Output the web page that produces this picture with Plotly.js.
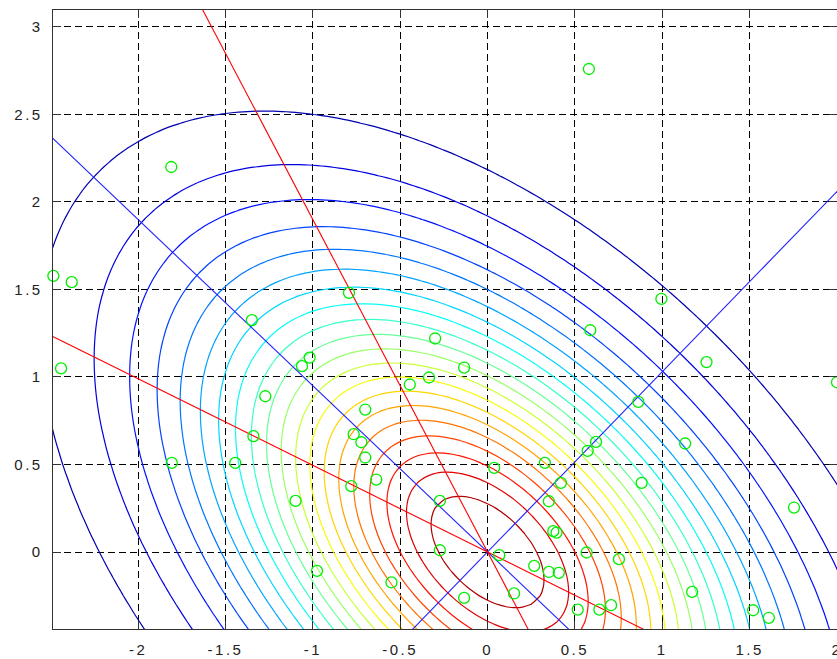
<!DOCTYPE html>
<html><head><meta charset="utf-8">
<script src="https://cdn.plot.ly/plotly-3.0.1.min.js"></script>
<style>
html,body{margin:0;padding:0;background:#fff;}
#chart{width:837px;height:659px;}
.xtick text, .ytick text { letter-spacing: 2.5px; }
</style></head><body><div id="chart"></div>
<script>
// ---- data ----
// Gaussian density (mean and covariance) whose contours are drawn
const densityMean = [0, 0];
const covRow1 = [1.078, -0.528];
const covRow2 = [-0.528, 1.042];
const contourLevelCount = 20;

// sample points (green circles)
const pointsX = [0.58, -1.81, -2.485, -2.38, -0.793, -1.349, -0.30, -1.018, -1.062, -2.441,
  -0.335, -0.445, -0.134, -1.272, -0.70, -1.34, -0.766, -0.722, -0.70, -1.807,
  -1.444, -0.637, -0.780, -1.099, -0.273, -0.273, -0.976, -0.550, -1.028, 0.038,
  0.328, 0.863, 0.621, 0.573, 0.882, 0.420, 0.351, 0.376, 0.395, 0.067,
  0.267, 0.351, 0.408, 0.567, 0.752, -0.134, 0.152, 0.516, 0.640, 0.707,
  0.829, 1.754, 1.171, 1.520, 1.610, 0.995, 0.588, 1.253, 2.0, 1.131];
const pointsY = [2.76, 2.20, 1.578, 1.542, 1.481, 1.325, 1.22, 1.111, 1.062, 1.049,
  0.997, 0.957, 1.054, 0.890, 0.814, 0.662, 0.673, 0.627, 0.540, 0.509,
  0.509, 0.414, 0.376, 0.292, 0.292, 0.010, -0.108, -0.174, -0.457, 0.481,
  0.509, 0.858, 0.629, 0.578, 0.395, 0.395, 0.290, 0.119, 0.111, -0.018,
  -0.079, -0.114, -0.119, -0.003, -0.041, -0.262, -0.237, -0.329, -0.329, -0.304,
  -0.466, 0.254, -0.228, -0.333, -0.376, 1.446, 1.267, 1.085, 0.97, 0.620];

// direction lines through the origin (slopes)
const blueLineSlopes = [-0.95, 1.03];
const redLineSlopes = [-1.90, -0.495];

// axes
const xTickVals = [-2, -1.5, -1, -0.5, 0, 0.5, 1, 1.5, 2];
const xTickText = ['-2', '-1.5', '-1', '-0.5', '0', '0.5', '1', '1.5', '2'];
const yTickVals = [0, 0.5, 1, 1.5, 2, 2.5, 3];
const yTickText = ['0', '0.5', '1', '1.5', '2', '2.5', '3'];
const xRange = [-2.487, 2.0];
const yRange = [-0.44, 3.097];

// ---- density grid ----
const gx = [], gy = [];
for (let i = 0; i <= 100; i++) gx.push(-2.7 + i * 0.05);
for (let j = 0; j <= 82; j++) gy.push(-0.8 + j * 0.05);
const a = covRow1[0], b = covRow1[1], c = covRow2[0], d = covRow2[1];
const det = a * d - b * c;
const p11 = d / det, p12 = -b / det, p21 = -c / det, p22 = a / det;
const norm = 1 / (2 * Math.PI * Math.sqrt(det));
const z = gy.map(yv => gx.map(xv => {
  const dx = xv - densityMean[0], dy = yv - densityMean[1];
  const q = dx * (p11 * dx + p12 * dy) + dy * (p21 * dx + p22 * dy);
  return norm * Math.exp(-0.5 * q);
}));
const step = norm / (contourLevelCount + 1);

// MATLAB jet, sampled at the level positions k/(N+1)
function jet(t) {
  const cl = v => Math.max(0, Math.min(1, v));
  const r = cl(1.5 - Math.abs(4 * t - 3)), g = cl(1.5 - Math.abs(4 * t - 2)), bb = cl(1.5 - Math.abs(4 * t - 1));
  return 'rgb(' + Math.round(r * 255) + ',' + Math.round(g * 255) + ',' + Math.round(bb * 255) + ')';
}
const jetScale = [];
for (let i = 0; i <= 40; i++) {
  const p = i / 40;
  const t = (1 + (contourLevelCount - 1) * p) / (contourLevelCount + 1);
  jetScale.push([p, jet(t)]);
}

function lineTrace(slope, color) {
  const xs = [-5, 5];
  return {type: 'scatter', mode: 'lines', x: xs, y: xs.map(v => slope * v),
    line: {color: color, width: 1.1}, hoverinfo: 'skip'};
}

const traces = [
  {type: 'contour', x: gx, y: gy, z: z,
   contours: {coloring: 'lines', start: step, end: step * contourLevelCount + step * 0.01, size: step, showlabels: false},
   colorscale: jetScale, showscale: false, line: {width: 1.2, smoothing: 0.5}, hoverinfo: 'skip'},
  lineTrace(blueLineSlopes[0], '#2020ff'),
  lineTrace(blueLineSlopes[1], '#2020ff'),
  lineTrace(redLineSlopes[0], '#ff0000'),
  lineTrace(redLineSlopes[1], '#ff0000'),
  {type: 'scatter', mode: 'markers', x: pointsX, y: pointsY, cliponaxis: false,
   marker: {symbol: 'circle-open', size: 11, color: '#00ee00', line: {width: 1.3, color: '#00ee00'}}, hoverinfo: 'skip'}
];

const axisCommon = {
  showgrid: true, gridcolor: '#000', gridwidth: 1, griddash: '7px,4px',
  zeroline: false, showline: true, linecolor: '#333', linewidth: 1.3, mirror: 'ticks',
  ticks: 'inside', ticklen: 8, tickcolor: '#333', tickwidth: 1, ticklabeloverflow: 'allow',
  tickfont: {family: 'Liberation Sans, Arial, sans-serif', size: 15, color: '#222'}
};

const layout = {
  width: 837, height: 659,
  margin: {l: 53, r: 0, t: 10, b: 30},
  paper_bgcolor: '#fff', plot_bgcolor: '#fff', showlegend: false,
  xaxis: Object.assign({}, axisCommon, {range: xRange, tickmode: 'array', tickvals: xTickVals, ticktext: xTickText, ticklabelstandoff: 7}),
  yaxis: Object.assign({}, axisCommon, {range: yRange, tickmode: 'array', tickvals: yTickVals, ticktext: yTickText, ticklabelstandoff: 6})
};

Plotly.newPlot('chart', traces, layout, {displayModeBar: false, staticPlot: true});
</script></body></html>
